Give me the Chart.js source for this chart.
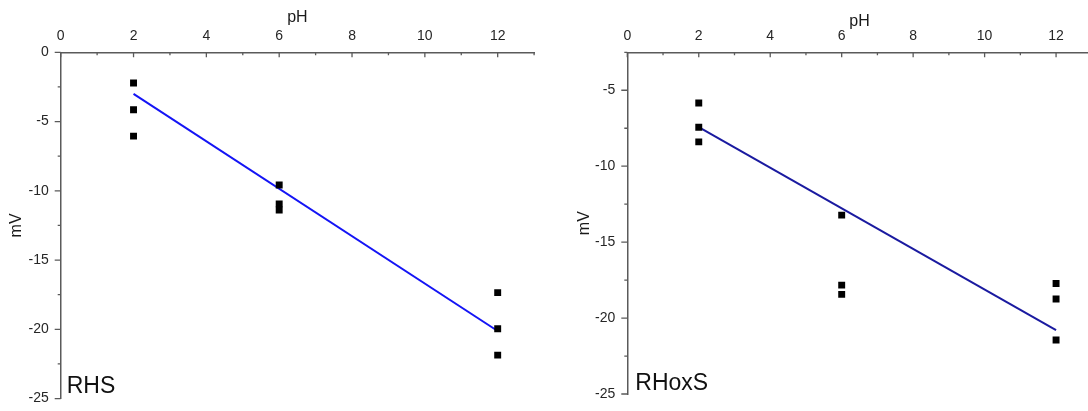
<!DOCTYPE html>
<html>
<head>
<meta charset="utf-8">
<script src="https://cdn.jsdelivr.net/npm/chart.js@4/dist/chart.umd.min.js"></script>
<style>
  html, body { margin: 0; padding: 0; background: #fff; overflow: hidden; width: 1088px; height: 411px; }
  canvas { position: absolute; top: 0; }
  #rhs { left: 0; }
  #rhoxs { left: 544px; }
</style>
</head>
<body>
<canvas id="rhs" width="544" height="411"></canvas>
<canvas id="rhoxs" width="560" height="411"></canvas>
<script>
// Measured potential (mV) against pH, three replicates per pH level
const phLevels = [2, 2, 2, 6, 6, 6, 12, 12, 12];
const rhsMv   = [-2.22, -4.15, -6.05, -9.58, -10.94, -11.38, -17.35, -19.96, -21.86];
const rhoxsMv = [-5.84, -7.43, -8.40, -13.22, -17.83, -18.44, -17.72, -18.75, -21.45];

// Linear fit lines, evaluated at the ends of the pH range
const fitPh      = [2, 12];
const rhsFitMv   = [-3.0, -20.12];
const rhoxsFitMv = [-7.43, -20.79];

// Tick labels
const phTicks      = [0, 2, 4, 6, 8, 10, 12];
const rhsMvTicks   = [0, -5, -10, -15, -20, -25];
const rhoxsMvTicks = [-5, -10, -15, -20, -25];

const FONT = '"Liberation Sans", Arial, sans-serif';
const AXIS_COLOR = '#5a5a5a';

// Draws small tick marks: x ticks point into the plot, y ticks point outward;
// also writes the panel name in the lower-left corner.
const axisDecor = {
  id: 'axisDecor',
  afterDraw(chart, args, opts) {
    const { ctx, chartArea, scales: { x, y } } = chart;
    ctx.save();
    ctx.strokeStyle = AXIS_COLOR;
    ctx.lineWidth = 1.3;
    ctx.beginPath();
    for (let v = x.min; v <= x.max + 1e-9; v += 1) {
      const px = x.getPixelForValue(v);
      const len = (v % 2 === 0) ? 5 : 3;
      ctx.moveTo(px, chartArea.top);
      ctx.lineTo(px, chartArea.top + len);
    }
    for (let v = y.min; v <= y.max + 1e-9; v += 2.5) {
      const py = y.getPixelForValue(v);
      const len = (Math.abs(v % 5) < 1e-9) ? 6 : 3;
      ctx.moveTo(chartArea.left - len, py);
      ctx.lineTo(chartArea.left, py);
    }
    ctx.stroke();

    ctx.fillStyle = '#111';
    ctx.font = opts.size + 'px ' + FONT;
    ctx.textAlign = 'left';
    ctx.textBaseline = 'alphabetic';
    ctx.fillText(opts.text, chartArea.left + opts.dx, opts.baseline);
    ctx.restore();
  }
};

function makePanel(id, mv, fitMv, lineColor, cfg) {
  const points = phLevels.map((p, i) => ({ x: p, y: mv[i] }));
  const fit = fitPh.map((p, i) => ({ x: p, y: fitMv[i] }));
  return new Chart(document.getElementById(id), {
    type: 'scatter',
    data: {
      datasets: [
        {
          type: 'line',
          data: fit,
          borderColor: lineColor,
          borderWidth: 2,
          pointRadius: 0,
          fill: false,
          tension: 0,
          order: 1
        },
        {
          data: points,
          pointStyle: 'rect',
          pointRadius: 4.9,
          pointHoverRadius: 4.9,
          backgroundColor: '#000',
          borderWidth: 0,
          order: 0
        }
      ]
    },
    options: {
      responsive: false,
      animation: false,
      devicePixelRatio: 1,
      layout: { padding: { left: 0, top: 0, right: cfg.padRight, bottom: cfg.padBottom } },
      plugins: {
        legend: { display: false },
        tooltip: { enabled: false },
        axisDecor: cfg.label
      },
      scales: {
        x: {
          type: 'linear',
          position: 'top',
          min: 0,
          max: 13,
          afterBuildTicks: s => { s.ticks = phTicks.map(v => ({ value: v })); },
          afterFit: s => { s.height = cfg.xHeight; },
          grid: { display: false, drawTicks: true, tickLength: 5 },
          border: { display: true, color: AXIS_COLOR, width: 1.5 },
          ticks: { color: '#262626', font: { family: FONT, size: 14 }, padding: 3, maxRotation: 0 },
          title: {
            display: true,
            text: 'pH',
            color: '#1a1a1a',
            font: { family: FONT, size: 16 },
            padding: { top: cfg.xTitlePad, bottom: 0 }
          }
        },
        y: {
          type: 'linear',
          position: 'left',
          min: cfg.yMin,
          max: cfg.yMax,
          afterBuildTicks: s => { s.ticks = cfg.yTicks.map(v => ({ value: v })); },
          afterFit: s => { s.width = cfg.yWidth; },
          grid: { display: false, drawTicks: true, tickLength: 8 },
          border: { display: true, color: AXIS_COLOR, width: 1.5 },
          ticks: { color: '#262626', font: { family: FONT, size: 14 }, padding: 4 },
          title: {
            display: true,
            text: 'mV',
            color: '#1a1a1a',
            font: { family: FONT, size: 16 },
            padding: { top: cfg.yTitlePad, bottom: 0 }
          }
        }
      }
    },
    plugins: [axisDecor]
  });
}

makePanel('rhs', rhsMv, rhsFitMv, '#1414f5', {
  yMin: -25, yMax: 0, yTicks: rhsMvTicks,
  xHeight: 52.3, yWidth: 60.7, padRight: 9.9, padBottom: 9.3,
  xTitlePad: 8.4, yTitlePad: 6.8,
  label: { text: 'RHS', size: 23, dx: 6, baseline: 393 }
});

makePanel('rhoxs', rhoxsMv, rhoxsFitMv, '#1a1aa0', {
  yMin: -25, yMax: -2.5, yTicks: rhoxsMvTicks,
  xHeight: 52.3, yWidth: 83.3, padRight: 12.2, padBottom: 17,
  xTitlePad: 12.4, yTitlePad: 31.4,
  label: { text: 'RHoxS', size: 23, dx: 8, baseline: 389.5 }
});
</script>
</body>
</html>
